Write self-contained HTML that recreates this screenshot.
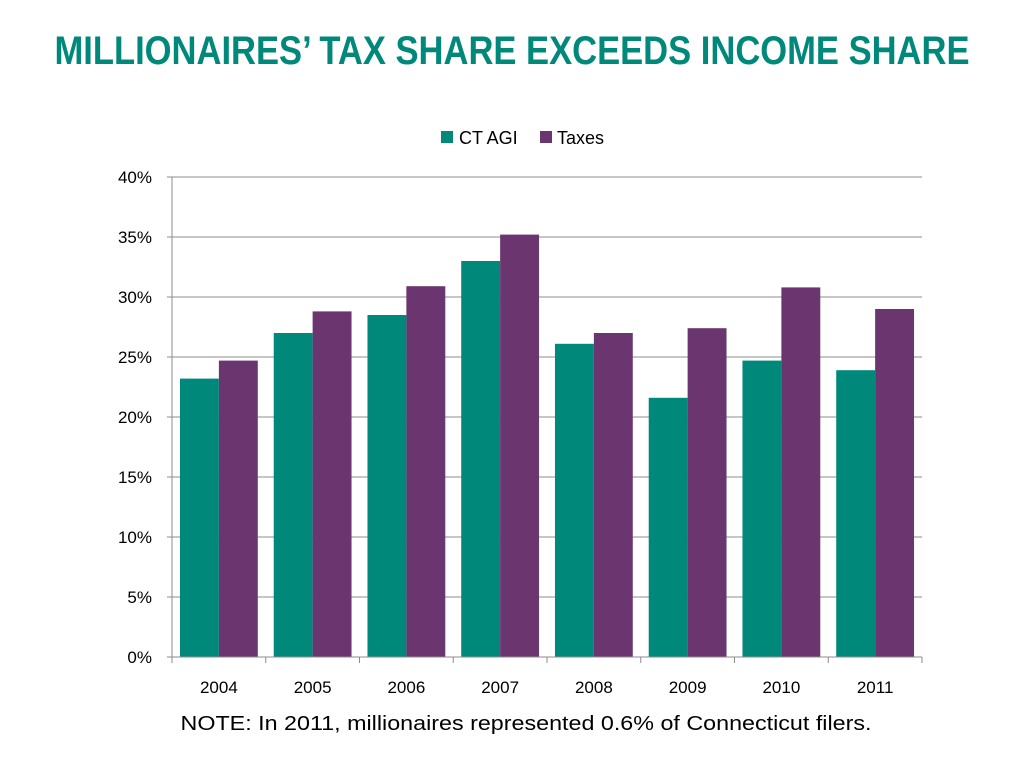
<!DOCTYPE html>
<html><head><meta charset="utf-8"><style>
html,body{margin:0;padding:0;background:#fff;}
svg{display:block;font-family:"Liberation Sans",sans-serif;}
</style></head><body>
<svg id="chart" width="1024" height="768">
<text x="512" y="64" text-anchor="middle" font-size="40" font-weight="bold" fill="#00897B" textLength="915" lengthAdjust="spacingAndGlyphs">MILLIONAIRES’ TAX SHARE EXCEEDS INCOME SHARE</text>
<g>
<rect x="441" y="131" width="12" height="12" fill="#00897B"/>
<text x="459" y="144" font-size="18" fill="#000">CT AGI</text>
<rect x="540" y="131" width="12" height="12" fill="#6B3570"/>
<text x="557" y="144" font-size="18" fill="#000">Taxes</text>
</g>
<g id="grid"></g><g id="bars"></g><g id="axes"></g>
<text x="526" y="730" text-anchor="middle" font-size="20" fill="#000" textLength="691" lengthAdjust="spacingAndGlyphs">NOTE: In 2011, millionaires represented 0.6% of Connecticut filers.</text>
</svg>
<script>
const categories=["2004","2005","2006","2007","2008","2009","2010","2011"];
const agiValues=[23.2,27.0,28.5,33.0,26.1,21.6,24.7,23.9];
const taxValues=[24.7,28.8,30.9,35.2,27.0,27.4,30.8,29.0];
const yTicks=[0,5,10,15,20,25,30,35,40];
const ns="http://www.w3.org/2000/svg";
const X0=172,X1=922,Y0=657,Y1=177,MAX=40;
const y=v=>Y0-(v/MAX)*(Y0-Y1);
const bw=(X1-X0)/categories.length;
const x=i=>X0+i*bw;
function mk(t,a,p){const e=document.createElementNS(ns,t);for(const k in a)e.setAttribute(k,a[k]);p.appendChild(e);return e;}
const grid=document.getElementById('grid'),bars=document.getElementById('bars'),axes=document.getElementById('axes');
yTicks.forEach(t=>{
 if(t>0){const l=mk('line',{x1:X0,x2:X1,y1:y(t),y2:y(t),stroke:'#8c8c8c','stroke-width':1},grid);
 
 }
 const tk=mk('line',{x1:X0-5,x2:X0,y1:y(t),y2:y(t),stroke:'#8c8c8c'},axes);
 
 
 const lb=mk('text',{x:X0-20,y:y(t)+6,'text-anchor':'end','font-size':17},axes);
 lb.textContent=t+'%';
 
 
});
const barW=bw*0.415,off=bw*0.085;
categories.forEach((c,i)=>{
 const a=mk('rect',{x:x(i)+off,y:y(agiValues[i]),width:barW,height:Y0-y(agiValues[i]),fill:'#00897B'},bars);
 
 
 const b=mk('rect',{x:x(i)+off+barW,y:y(taxValues[i]),width:barW,height:Y0-y(taxValues[i]),fill:'#6B3570'},bars);
 
 
 const lb=mk('text',{x:x(i)+bw/2,y:693,'text-anchor':'middle','font-size':17},axes);
 lb.textContent=c;
 
 
});
for(let i=0;i<=categories.length;i++){
 const t=mk('line',{x1:x(i),x2:x(i),y1:Y0,y2:Y0+6,stroke:'#8c8c8c'},axes);
 
 
}
const ya=mk('line',{x1:X0,x2:X0,y1:Y1,y2:Y0,stroke:'#8c8c8c'},axes);


const xa=mk('line',{x1:X0,x2:X1,y1:Y0,y2:Y0,stroke:'#8c8c8c'},axes);


</script>
</body></html>
